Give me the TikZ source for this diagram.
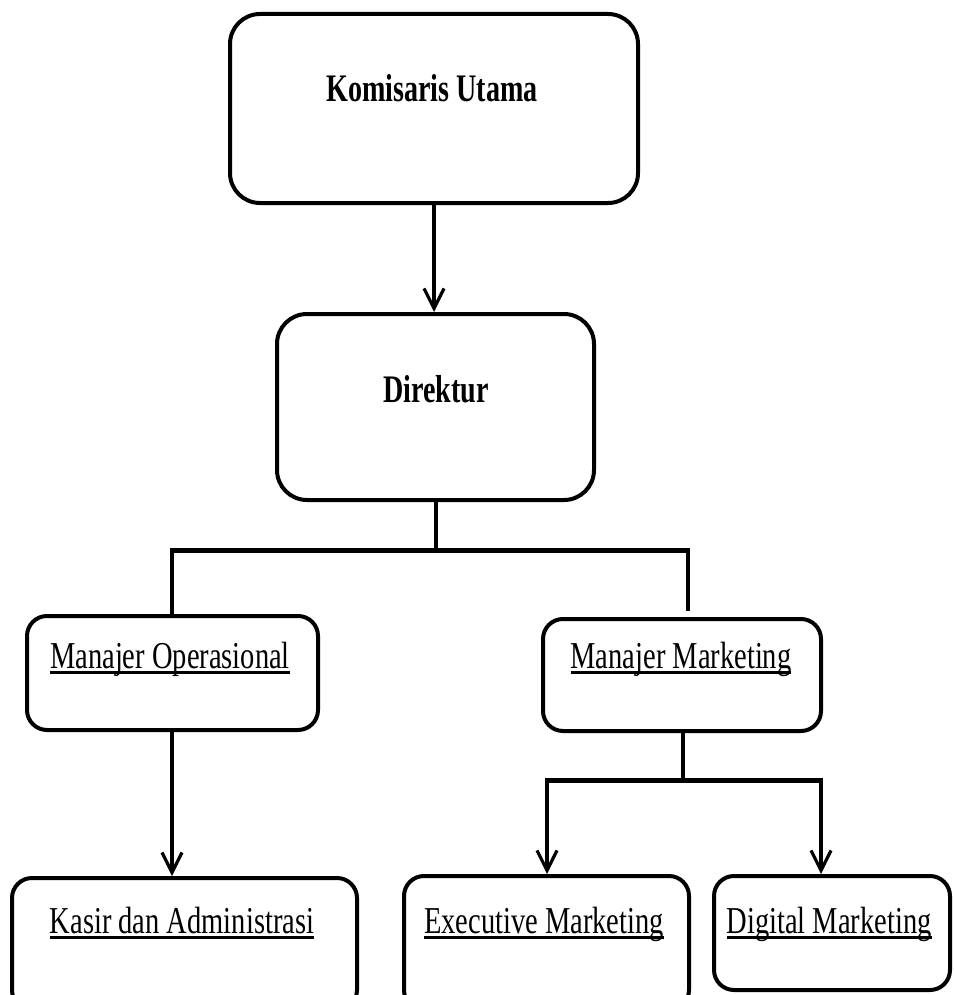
\documentclass[tikz,border=0pt]{standalone}
\usepackage{fontspec}
\usepackage{graphicx}
\setmainfont{Liberation Serif}
\usetikzlibrary{arrows.meta}
\newcommand\myul[1]{\setbox0\hbox{#1}\rlap{\rule[-6pt]{\wd0}{2.8pt}}\box0}
\tikzset{
  box/.style={draw=black, line width=4pt, rounded corners=#1, inner sep=0pt, fill=white},
  box/.default=20pt,
  boldtxt/.style={inner sep=0pt, anchor=base, font=\fontsize{39}{44}\selectfont\bfseries},
  regtxt/.style={inner sep=0pt, anchor=base, font=\fontsize{38}{44}\selectfont},
  conn/.style={line width=3.4pt, draw=black},
  bar/.style={line width=5pt, draw=black},
  arr/.style={conn, -{Straight Barb[length=20pt,width=20pt,line width=3.2pt]}}
}
\begin{document}
\begin{tikzpicture}[x=1pt,y=-1pt]
\clip (0,0) rectangle (953,995);
\fill[white] (0,0) rectangle (953,995);
% boxes
\node[box=30pt, minimum width=408pt, minimum height=189pt] (kom) at (434,108.5) {};
\node[box=30pt, minimum width=317pt, minimum height=186pt] (dir) at (435.5,407) {};
\node[box, minimum width=291pt, minimum height=114pt] (mo) at (172.5,673) {};
\node[box, minimum width=278pt, minimum height=112pt] (mm) at (682,675) {};
\node[box, minimum width=345pt, minimum height=132pt] (kas) at (184.5,944) {};
\node[box, minimum width=285pt, minimum height=134pt] (exe) at (546.5,943) {};
\node[box, minimum width=236pt, minimum height=114pt] (dig) at (832,933) {};
% texts
\node[boldtxt] (komt) at (432,102) {\scalebox{0.72}[1]{Komisaris Utama}};
\node[boldtxt] (dirt) at (436,402) {\scalebox{0.72}[1]{Direktur}};
\node[regtxt] (mot) at (170,668) {\scalebox{0.75}[1]{\myul{Manajer Operasional}}};
\node[regtxt] (mmt) at (681,668) {\scalebox{0.75}[1]{\myul{Manajer Marketing}}};
\node[regtxt] (kast) at (182,933) {\scalebox{0.75}[1]{\myul{Kasir dan Administrasi}}};
\node[regtxt] (exet) at (544,933) {\scalebox{0.75}[1]{\myul{Executive Marketing}}};
\node[regtxt] (digt) at (829,933) {\scalebox{0.75}[1]{\myul{Digital Marketing}}};
% coordinates
\coordinate (dirbar) at (436,550);
\coordinate (barL) at (172,550);
\coordinate (barR) at (688,550);
\coordinate (mmtop) at (688,611);
\coordinate (mmbar) at (683,780);
\coordinate (mbarL) at (547,780);
\coordinate (mbarR) at (821,780);
% connectors
\draw[arr] (kom.south) -- (kom.south |- dir.north);
\draw[conn] (dir.south -| dirbar) -- (dirbar);
\draw[bar] ([xshift=-1.7pt]barL) -- ([xshift=1.7pt]barR);
\draw[conn] (barL) -- (barL |- mo.north);
\draw[conn] (barR) -- (mmtop);
\draw[arr] (mo.south -| barL) -- (barL |- kas.north);
\draw[conn] (mm.south -| mmbar) -- (mmbar);
\draw[bar] ([xshift=-1.7pt]mbarL) -- ([xshift=1.7pt]mbarR);
\draw[arr] (mbarL) -- (mbarL |- exe.north);
\draw[arr] (mbarR) -- (mbarR |- dig.north);
\end{tikzpicture}
\end{document}
